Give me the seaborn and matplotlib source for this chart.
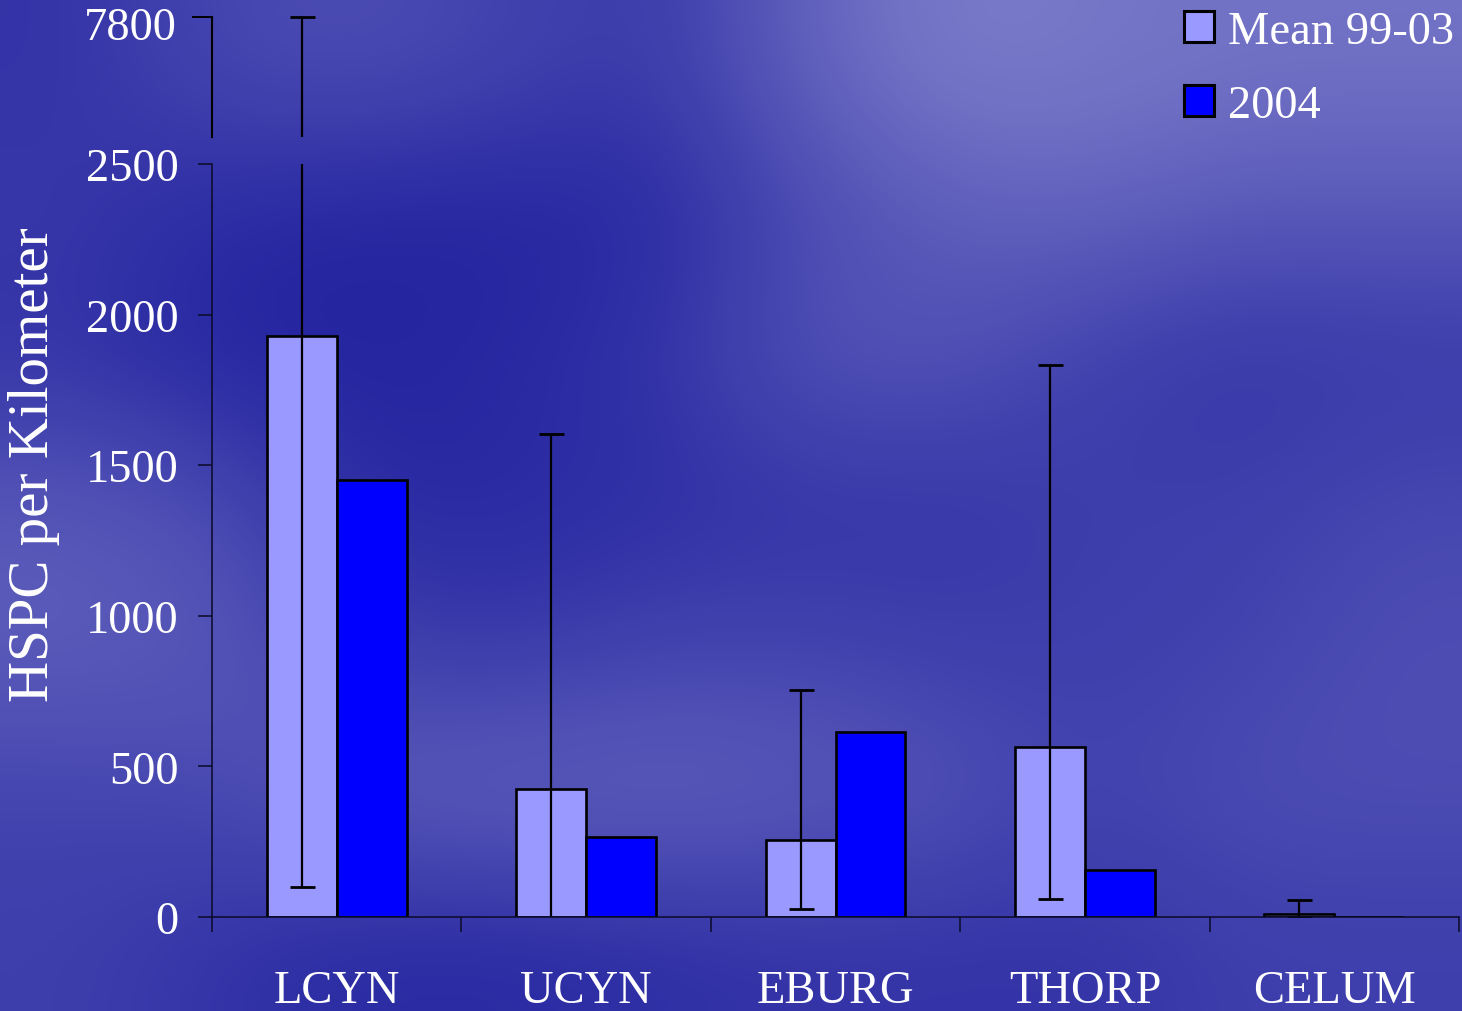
import numpy as np
import pandas as pd
import matplotlib.pyplot as plt
import matplotlib.transforms as mtransforms
import seaborn as sns
from matplotlib.patches import Patch
from matplotlib.colors import LinearSegmentedColormap

SITES = ["LCYN", "UCYN", "EBURG", "THORP", "CELUM"]
SERIES = ["Mean 99-03", "2004"]
MEAN_99_03 = [1930, 425, 256, 565, 10]
VALUES_2004 = [1450, 266, 614, 156, 0]
# error bar ends for the 99-03 mean (UCYN runs below zero, no lower cap shown)
ERR_LOW = [100, -150, 27, 60, 0]
ERR_HIGH = [7800, 1604, 754, 1833, 56]
LOW_TICKS = [0, 500, 1000, 1500, 2000, 2500]
HIGH_TICKS = [7800]

LIGHT = "#9999ff"
DARK = "#0000ff"
INK = "#0a0a28"

# rough brightness of the cloudy slide background (rows top -> bottom)
CLOUDS = [
    [0.15, 0.35, 0.40, 0.30, 0.20, 0.60, 0.85, 0.80, 0.75, 0.75],
    [0.20, 0.05, 0.00, 0.00, 0.05, 0.35, 0.55, 0.60, 0.50, 0.50],
    [0.15, 0.00, 0.00, 0.05, 0.15, 0.45, 0.45, 0.25, 0.15, 0.20],
    [0.50, 0.40, 0.05, 0.05, 0.10, 0.15, 0.15, 0.25, 0.25, 0.35],
    [0.55, 0.50, 0.25, 0.20, 0.30, 0.30, 0.25, 0.25, 0.30, 0.40],
    [0.30, 0.35, 0.55, 0.60, 0.60, 0.55, 0.45, 0.30, 0.40, 0.40],
    [0.25, 0.15, 0.05, 0.05, 0.10, 0.15, 0.15, 0.15, 0.25, 0.25],
]

sns.set_style("ticks")
plt.rcParams["font.family"] = ["Liberation Serif", "DejaVu Serif"]

df = pd.DataFrame({
    "site": SITES * 2,
    "series": [SERIES[0]] * len(SITES) + [SERIES[1]] * len(SITES),
    "value": MEAN_99_03 + VALUES_2004,
})

W, H = 1462, 1012
fig = plt.figure(figsize=(W / 100, H / 100), dpi=100)

bg = fig.add_axes([0, 0, 1, 1], zorder=-10)
cmap = LinearSegmentedColormap.from_list("sky", ["#2424a0", "#8c8cd2"])
bg.imshow(np.array(CLOUDS), cmap=cmap, vmin=0, vmax=1, aspect="auto",
          interpolation="bicubic", extent=(0, 1, 0, 1))
bg.axis("off")

left, right = 212 / W, 1459 / W
ax = fig.add_axes([left, (H - 918) / H, right - left, (918 - 165) / H])
# top axes: 7300 at y=138, 7800 at y=18 -> extend a touch above for the cap
top_px = 18 - 15 * 120 / 500
ax_top = fig.add_axes([left, (H - 138) / H, right - left, (138 - top_px) / H])

for a in (ax, ax_top):
    a.set_facecolor("none")
    for s in ("top", "right"):
        a.spines[s].set_visible(False)
    a.spines["left"].set_color(INK)
    a.spines["left"].set_linewidth(1.1)
    a.spines["bottom"].set_color(INK)
    a.spines["bottom"].set_linewidth(1.1)

sns.barplot(data=df, x="site", y="value", hue="series", palette=[LIGHT, DARK],
            saturation=1, edgecolor="black", linewidth=1.9, width=0.56,
            errorbar=None, legend=False, ax=ax)

# light bar centres, read back from the bars seaborn drew
xs = [p.get_x() + p.get_width() / 2 for p in ax.containers[0]]
m = np.array(MEAN_99_03, dtype=float)
yerr = [m - np.array(ERR_LOW), np.array(ERR_HIGH) - m]
for a in (ax, ax_top):
    a.errorbar(xs, m, yerr=yerr, fmt="none", ecolor="black", elinewidth=1.6,
               capsize=9, capthick=2)

ax.set_xlim(-0.5, 4.5)
ax.set_ylim(0, 2500)
ax.set_yticks(LOW_TICKS)
ax.set_xlabel("")
ax.set_ylabel("")
ax.tick_params(axis="y", length=10, width=1.1, color=INK, pad=14,
               labelsize=33.5, labelcolor="white")
ax.tick_params(axis="x", which="major", length=0, pad=38,
               labelsize=33.5, labelcolor="white")
ax.set_xticks(np.arange(-0.5, 5, 1), minor=True)
ax.tick_params(axis="x", which="minor", length=10.8, width=1.1, color=INK)

ax_top.set_xlim(-0.5, 4.5)
ax_top.set_ylim(7300, 7815)
ax_top.spines["left"].set_bounds(7300, 7800)
ax_top.spines["bottom"].set_visible(False)
ax_top.set_xticks([])
ax_top.set_yticks(HIGH_TICKS)
ax_top.tick_params(axis="y", length=14.4, width=1.4, color="black", pad=11,
                   labelsize=33.5, labelcolor="white")
ax_top.spines["left"].set_color("black")
ax_top.spines["left"].set_linewidth(1.5)
shift = mtransforms.ScaledTranslation(0, -6 / 100, fig.dpi_scale_trans)
for lab in ax_top.get_yticklabels():
    lab.set_transform(lab.get_transform() + shift)

fig.text(34 / W, 1 - 465 / H, "HSPC per Kilometer", rotation=90,
         ha="center", va="center", fontsize=41, color="white")

handles = [Patch(facecolor=c, edgecolor="black", linewidth=2.2) for c in (LIGHT, DARK)]
fig.legend(handles, SERIES, loc="upper left", bbox_to_anchor=(1184 / W, 1 - 11 / H),
           frameon=False, fontsize=33.5, labelcolor="white", borderpad=0,
           borderaxespad=0, handlelength=0.65, handleheight=0.65,
           handletextpad=0.3, labelspacing=0.68)

fig.savefig("out.png", dpi=100)
